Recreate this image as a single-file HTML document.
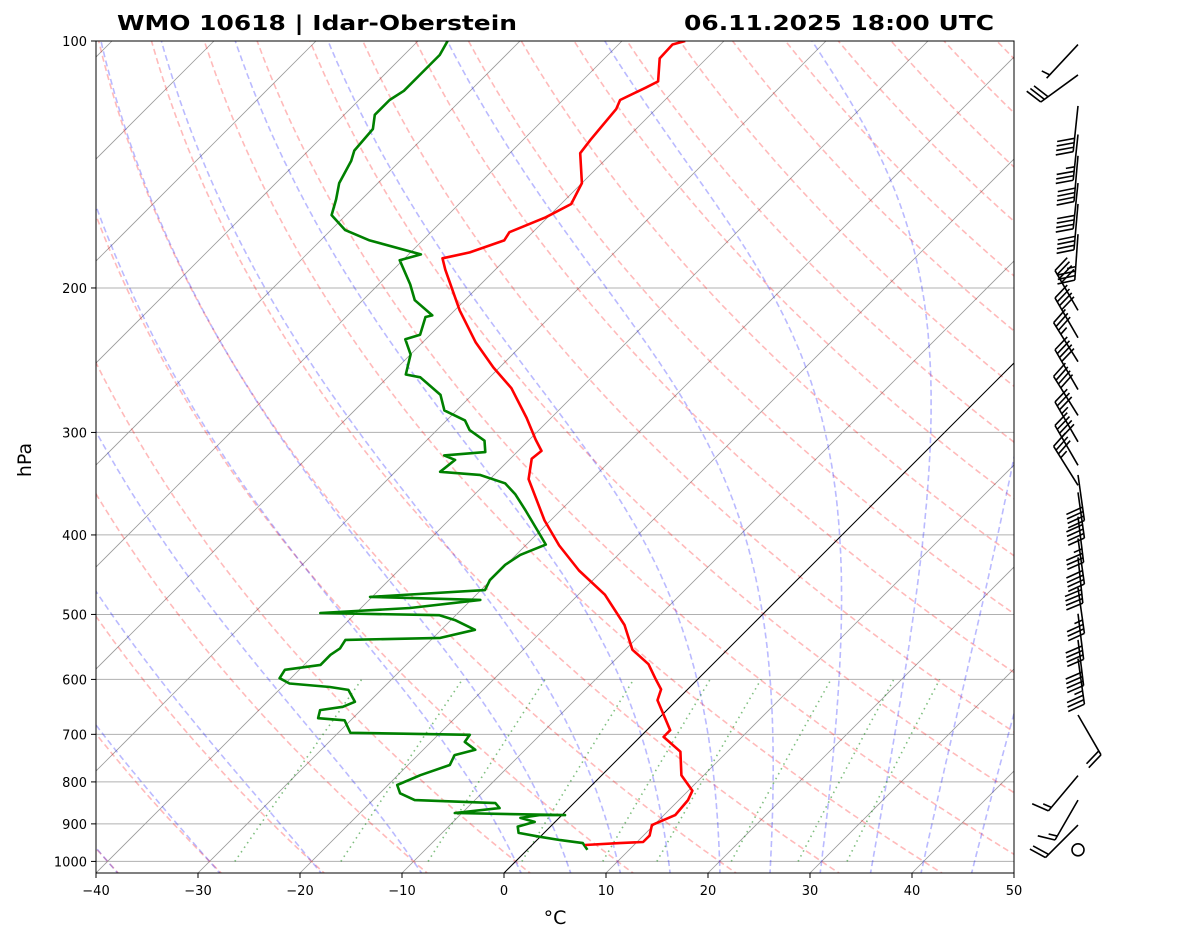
<!DOCTYPE html>
<html><head><meta charset="utf-8"><style>
html,body{margin:0;padding:0;background:#fff;}
svg{display:block;font-family:"DejaVu Sans","Liberation Sans",sans-serif;}
</style></head><body>
<svg id="chart" width="1181" height="941" viewBox="0 0 1181 941" xmlns="http://www.w3.org/2000/svg">
<defs><clipPath id="plotclip"><rect x="96" y="41" width="918" height="832"/></clipPath></defs>
<rect x="0" y="0" width="1181" height="941" fill="#fff"/>
<text x="117" y="30" font-size="20" font-weight="bold" textLength="400" lengthAdjust="spacingAndGlyphs">WMO 10618 | Idar-Oberstein</text>
<text x="994" y="30" font-size="20" font-weight="bold" text-anchor="end" textLength="310" lengthAdjust="spacingAndGlyphs">06.11.2025 18:00 UTC</text>
<g id="bg" clip-path="url(#plotclip)"></g>
<g id="profiles" clip-path="url(#plotclip)"></g>
<rect x="96" y="41" width="918" height="832" fill="none" stroke="#000" stroke-width="1"/>
<g id="axes"></g>
<text x="31" y="460" font-size="19" text-anchor="middle" transform="rotate(-90 31 460)">hPa</text>
<text x="555" y="924" font-size="19" text-anchor="middle">°C</text>
<g id="barbs"></g>
</svg>
<script>
// ---- data ----
const tempP = [955,950,947,930,903,878,842,820,785,735,705,692,636,617,600,575,552,515,473,442,412,384,342,323,316,306,288,265,250,233,213,190,184,181,175,171,164,158,149,137,132,121,118,114,112,105,101,100];
const tempT = [5.2,8.4,10.6,10.6,9.8,11.1,10.9,10.4,7.8,5.4,2.3,2.3,-1.9,-2.6,-4.1,-6.3,-9.3,-12.5,-17.4,-22.3,-26.7,-30.6,-36.2,-37.9,-37.7,-39.4,-42.4,-46.8,-50.6,-54.8,-59.5,-64.9,-66.3,-64.2,-62,-62.3,-60.2,-59,-60,-63.1,-63.4,-63.9,-64.4,-63.1,-62.5,-64.6,-64.7,-63.8];
const dewP = [968,950,942,933,923,907,895,885,878,878,873,861,849,842,826,807,785,763,742,731,715,701,697,673,669,654,648,639,618,613,607,598,584,576,560,550,537,534,522,508,501,498,491,480,476,467,454,435,423,411,400,373,357,346,338,335,324,320,317,307,298,290,282,270,257,255,241,231,228,217,216,207,198,185,182,175,170,163,156,149,140,136,128,123,118,115,110,104,100];
const dewT = [5.9,4.8,2.3,-0.1,-2.5,-3.2,-2.0,-3.8,-2.2,0.3,-10.7,-6.8,-7.7,-15.9,-18.0,-19.1,-17.8,-15.9,-16.4,-14.9,-16.7,-16.9,-28.8,-30.6,-33.4,-34.0,-32.1,-31.4,-33.2,-35.3,-39.6,-41.1,-41.4,-38.4,-38.4,-38.1,-38.4,-29.3,-26.7,-29.6,-31.6,-43.5,-35.2,-29.1,-40.2,-29.6,-30.1,-30.1,-29.6,-28.1,-29.6,-33.5,-36,-38.1,-41.4,-45.6,-45.3,-46.8,-43.1,-44.3,-46.8,-48.2,-51.2,-53.1,-56.8,-58.5,-60,-62,-61,-62.2,-61.7,-64.9,-66.9,-70.3,-68.8,-75.2,-78.6,-81.4,-82.5,-83.8,-84.8,-85.5,-85.8,-87,-87,-86.5,-86.5,-86.5,-87.1];
const barbP = [101,110,120,130,138,149,158,172,213,230,246,266,286,308,329,348,338,355,380,404,426,464,499,537,566,663,786,842,903,968];
const barbDir = [223,234,186,186,185,186,185,184,330,330,328,330,328,330,330,328,172,172,173,172,174,172,173,173,172,150,220,210,225,0];
const barbSpd = [5,30,40,35,40,40,40,35,40,40,35,40,40,35,40,35,40,40,35,40,40,35,40,40,35,20,15,15,20,0];
const xTicks = [-40,-30,-20,-10,0,10,20,30,40,50];
const yTicks = [100,200,300,400,500,600,700,800,900,1000];
const mixW = [0.0004,0.001,0.002,0.004,0.007,0.01,0.016,0.024,0.032];

// ---- axes ----
const X0=96,X1=1014,Y0=41,YB=873,PX=10.2,K=356.3;
function yP(p){return Y0+K*Math.log(p/100);}
function xT(T,p){return X0+(T+40)*PX+(YB-yP(p));}
const NS="http://www.w3.org/2000/svg";
function mk(tag,attrs,parent){const e=document.createElementNS(NS,tag);for(const k in attrs)e.setAttribute(k,attrs[k]);parent.appendChild(e);return e;}
const bg=document.getElementById('bg'),prof=document.getElementById('profiles'),ax=document.getElementById('axes'),bb=document.getElementById('barbs');
function pathFrom(pts){return pts.map((q,i)=>(i?'L':'M')+q[0].toFixed(1)+' '+q[1].toFixed(1)).join('');}
const pLevels=[];for(let p=1040;p>=100;p-=5)pLevels.push(p);

yTicks.forEach(p=>{
 const l=mk('line',{x1:X0,x2:X1,y1:yP(p),y2:yP(p),stroke:'#b0b0b0','stroke-width':1},bg);
 
 
});
for(let T=-130;T<=50;T+=10){
 const l=mk('line',{x1:xT(T,1040),y1:yP(1040),x2:xT(T,100),y2:yP(100),stroke:'#9a9a9a','stroke-width':0.8},bg);
 
 
}
for(let t=-40;t<=250;t+=10){
 const th=t+273.15;
 const pts=pLevels.map(p=>[xT(th*Math.pow(p/1000,0.2857)-273.15,p),yP(p)]);
 const e=mk('path',{d:pathFrom(pts),fill:'none',stroke:'rgba(255,0,0,0.27)','stroke-width':1.6,'stroke-dasharray':'6,3.5'},bg);
 
 
}
function es(Tc){return 6.112*Math.exp(17.67*Tc/(Tc+243.5));}
function dTdp(T,p){const Rd=287.04,Cp=1005.7,Lv=2.501e6,eps=0.622;const e=es(T-273.15);const rs=eps*e/(p-e);
 return (1/p)*(Rd*T+Lv*rs)/(Cp+Lv*Lv*rs*eps/(Rd*T*T));}
const moistT0=[-40,-30,-20,-10];for(let t=0;t<=100;t+=5)moistT0.push(t);
moistT0.forEach(t0=>{
 let pts=[];let T=t0+273.15;
 for(let p=1000;p<=1040;p+=2){pts.unshift([xT(T-273.15,p),yP(p)]);T+=dTdp(T,p)*2;}
 T=t0+273.15;const up=[];
 for(let p=1000;p>=100;p-=2){up.push([xT(T-273.15,p),yP(p)]);T-=dTdp(T,p)*2;}
 pts=pts.concat(up);
 const e=mk('path',{d:pathFrom(pts),fill:'none',stroke:'rgba(0,0,255,0.27)','stroke-width':1.6,'stroke-dasharray':'6,3.5'},bg);
 
 
});
mixW.forEach(w=>{
 const pts=[];for(let p=1000;p>=600;p-=10){const e=w*p/(0.622+w);const L=Math.log(e/6.112);const Td=243.5*L/(17.67-L);pts.push([xT(Td,p),yP(p)]);}
 const e=mk('path',{d:pathFrom(pts),fill:'none',stroke:'rgba(0,128,0,0.5)','stroke-width':1.6,'stroke-dasharray':'1.5,4'},bg);
 
 
});
const z=mk('line',{x1:xT(0,1040),y1:yP(1040),x2:xT(0,100),y2:yP(100),stroke:'#000','stroke-width':1},bg);



const dp=mk('path',{d:pathFrom(dewP.map((p,i)=>[xT(dewT[i],p),yP(p)])),fill:'none',stroke:'#008000','stroke-width':2.6,'stroke-linejoin':'round'},prof);


const tp=mk('path',{d:pathFrom(tempP.map((p,i)=>[xT(tempT[i],p),yP(p)])),fill:'none',stroke:'#ff0000','stroke-width':2.6,'stroke-linejoin':'round'},prof);



xTicks.forEach(t=>{
 const x=X0+(t+40)*PX;
 mk('line',{x1:x,x2:x,y1:YB,y2:YB+5,stroke:'#000','stroke-width':1},ax);
 const tx=mk('text',{x:x,y:YB+22,'font-size':13,'text-anchor':'middle'},ax);
 tx.textContent=(t<0?'\u2212'+(-t):String(t));
 
 
});
yTicks.forEach(p=>{
 const y=yP(p);
 mk('line',{x1:X0-5,x2:X0,y1:y,y2:y,stroke:'#000','stroke-width':1},ax);
 const tx=mk('text',{x:X0-9,y:y+5,'font-size':13,'text-anchor':'end'},ax);
 tx.textContent=String(p);
 
 
});

const BX=1078,L=46;
barbP.forEach((p,i)=>{
 const g=mk('g',{},bb);
 
 
 const y=yP(p),spd=barbSpd[i];
 if(spd<2.5){mk('circle',{cx:BX,cy:y,r:6,fill:'none',stroke:'#000','stroke-width':1.6},g);return;}
 const a=barbDir[i]*Math.PI/180;
 const sx=Math.sin(a),sy=-Math.cos(a);
 const tx=BX+sx*L,ty=y+sy*L;
 mk('line',{x1:BX,y1:y,x2:tx,y2:ty,stroke:'#000','stroke-width':1.6},g);
 const fx=-sy,fy=sx;
 const fl=17;
 let n=Math.round(spd/5),full=Math.floor(n/2),half=n%2;
 let k=0;
 for(let j=0;j<full;j++){const d=k*4.5;const bx=tx-sx*d,by=ty-sy*d;
  mk('line',{x1:bx,y1:by,x2:bx+fx*fl+sx*5,y2:by+fy*fl+sy*5,stroke:'#000','stroke-width':1.6},g);k++;}
 if(half){const d=(k===0?1:k)*4.5;const bx=tx-sx*d,by=ty-sy*d;
  mk('line',{x1:bx,y1:by,x2:bx+fx*fl/2+sx*2.5,y2:by+fy*fl/2+sy*2.5,stroke:'#000','stroke-width':1.6},g);}
});
</script>
</body></html>
